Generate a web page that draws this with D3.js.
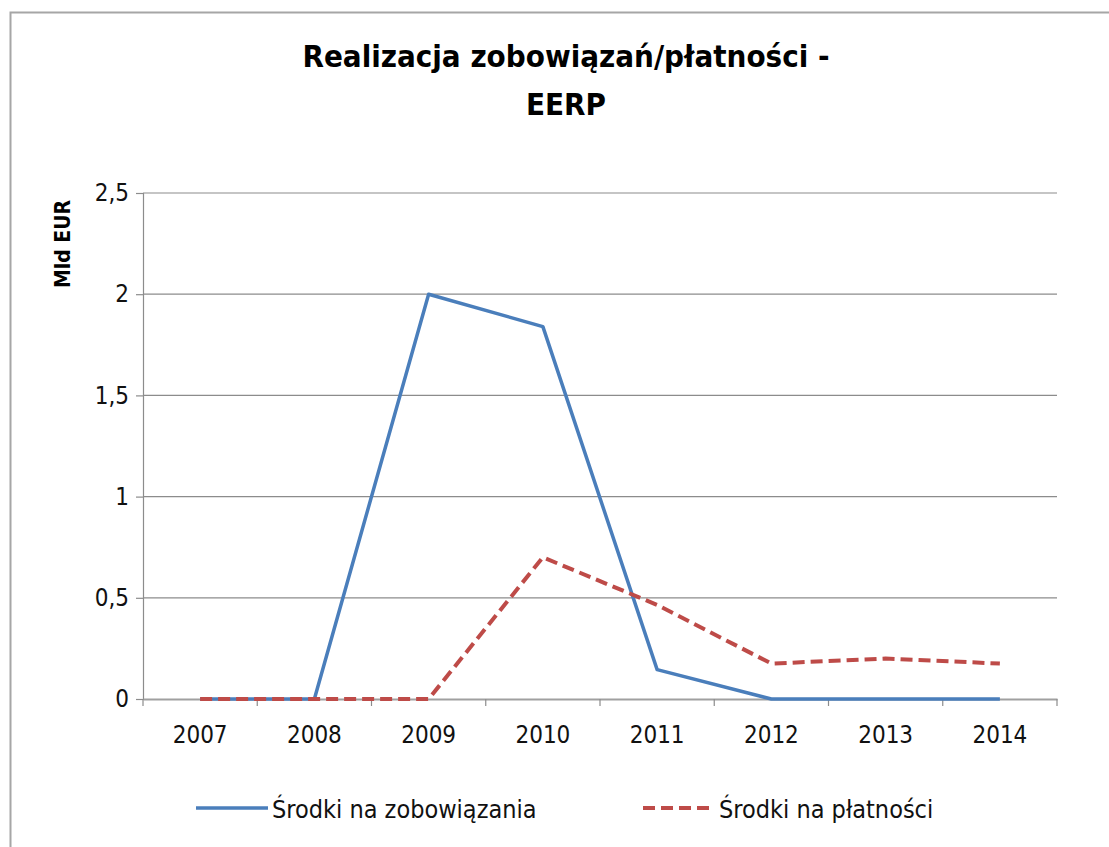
<!DOCTYPE html>
<html>
<head>
<meta charset="utf-8">
<script src="https://cdn.jsdelivr.net/npm/d3@7"></script>
<style>
  body { margin: 0; background: #fff; }
  text { font-family: "DejaVu Sans Condensed", "Liberation Sans Narrow", "Open Sans", sans-serif; }
</style>
</head>
<body>
<div id="chart"></div>
<script>
// data
let years = ["2007", "2008", "2009", "2010", "2011", "2012", "2013", "2014"];
let zobowiazania = [0, 0, 2.0, 1.84, 0.145, 0, 0, 0];
let platnosci = [0, 0, 0, 0.70, 0.465, 0.175, 0.2, 0.175];
let yTicks = [0, 0.5, 1, 1.5, 2, 2.5];
let seriesNames = ["Środki na zobowiązania", "Środki na płatności"];

// dimensions
let width = 1109;
let height = 847;
let plotLeft = 143, plotRight = 1057, plotTop = 193, plotBottom = 699;

let svg = d3.select("#chart").append("svg")
  .attr("width", width)
  .attr("height", height);

// chart frame
svg.append("rect")
  .attr("x", 10.5).attr("y", 12.5)
  .attr("width", 1110).attr("height", 850)
  .attr("fill", "#fff")
  .attr("stroke", "#a6a6a6")
  .attr("stroke-width", 2);

let x = d3.scaleBand().domain(years).range([plotLeft, plotRight]);
let y = d3.scaleLinear().domain([0, 2.5]).range([plotBottom, plotTop]);

let fmt = d => String(d).replace(".", ",");

// gridlines
svg.append("g")
  .selectAll("line")
  .data(yTicks.filter(d => d > 0))
  .enter().append("line")
  .attr("x1", plotLeft).attr("x2", plotRight)
  .attr("y1", d => y(d)).attr("y2", d => y(d))
  .attr("stroke", "#8c8c8c")
  .attr("stroke-width", 1.2);

// y axis
let yAxis = svg.append("g")
  .attr("transform", "translate(" + plotLeft + ",0)")
  .call(d3.axisLeft(y).tickValues(yTicks).tickSize(7).tickPadding(7).tickFormat(fmt));
yAxis.select(".domain").attr("stroke", "#8c8c8c").attr("stroke-width", 1.2);
yAxis.selectAll(".tick line").attr("stroke", "#8c8c8c").attr("stroke-width", 1.2);
yAxis.selectAll("text").attr("font-size", 24).attr("fill", "#111");

// x axis
let xAxis = svg.append("g")
  .attr("transform", "translate(0," + plotBottom + ")")
  .call(d3.axisBottom(x).tickSize(0).tickPadding(0));
xAxis.select(".domain").attr("stroke", "#a0a0a0").attr("stroke-width", 2);
xAxis.selectAll("text").attr("font-size", 24).attr("fill", "#111").attr("y", 44).attr("dy", null);
// category boundary ticks
svg.append("g")
  .selectAll("line")
  .data(years.map(d => x(d)).concat([plotRight]))
  .enter().append("line")
  .attr("x1", d => d).attr("x2", d => d)
  .attr("y1", plotBottom).attr("y2", plotBottom + 7)
  .attr("stroke", "#8c8c8c")
  .attr("stroke-width", 1.2);

let line = d3.line()
  .x((d, i) => x(years[i]) + x.bandwidth() / 2)
  .y(d => y(d));

svg.append("path")
  .datum(zobowiazania)
  .attr("d", line)
  .attr("fill", "none")
  .attr("stroke", "#4a7ebb")
  .attr("stroke-width", 3.5)
  .attr("stroke-linejoin", "round");

svg.append("path")
  .datum(platnosci)
  .attr("d", line)
  .attr("fill", "none")
  .attr("stroke", "#be4b48")
  .attr("stroke-width", 4)
  .attr("stroke-dasharray", "12,6");

// title
let title = svg.append("text")
  .attr("text-anchor", "middle")
  .attr("font-size", 31)
  .attr("font-weight", "bold")
  .attr("fill", "#000");
title.append("tspan").attr("x", 566).attr("y", 67).text("Realizacja zobowiązań/płatności  -");
title.append("tspan").attr("x", 566).attr("y", 115).text("EERP");

// y label
svg.append("text")
  .attr("transform", "translate(70,244) rotate(-90)")
  .attr("text-anchor", "middle")
  .attr("font-size", 21)
  .attr("font-weight", "bold")
  .text("Mld EUR");

// legend
let legend = svg.append("g");
let lx = [196, 643];
legend.selectAll("line")
  .data(seriesNames)
  .enter().append("line")
  .attr("x1", (d, i) => lx[i]).attr("x2", (d, i) => lx[i] + 72)
  .attr("y1", 808).attr("y2", 808)
  .attr("stroke", (d, i) => i === 0 ? "#4a7ebb" : "#be4b48")
  .attr("stroke-width", (d, i) => i === 0 ? 3.5 : 4)
  .attr("stroke-dasharray", (d, i) => i === 0 ? null : "12,6");
legend.selectAll("text")
  .data(seriesNames)
  .enter().append("text")
  .attr("x", (d, i) => lx[i] + 76)
  .attr("y", 818)
  .attr("font-size", 25)
  .attr("fill", "#111")
  .text(d => d);
</script>
</body>
</html>
